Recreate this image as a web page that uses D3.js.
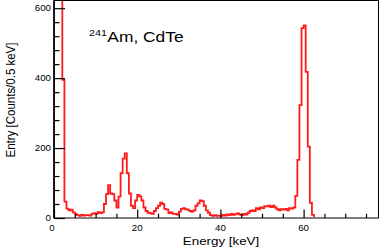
<!DOCTYPE html>
<html lang="en">
	<head>
		<meta charset="utf-8">
		<title>241Am CdTe spectrum</title>
		<script type="text/javascript" src="https://cdn.jsdelivr.net/npm/d3@7/dist/d3.min.js"></script>
		<style type="text/css">
			body { margin: 0; background: #fff; }
			svg { display: block; font-family: "Liberation Sans", Arial, sans-serif; }
		</style>
	</head>
	<body>
		<script type="text/javascript">

			//Width and height
			var w = 380;
			var h = 251;
			var stretch = 1.16;	// text in the picture is a bit wider than tall

			// Energy binning (keV) and counts per 0.5 keV bin
			var binWidth = 0.5;
			var xRange = [0, 78];
			var counts = [
				1500, 1500, 1500, 1500, 395, 47, 27, 22, 24, 16,
				12, 8, 6, 9, 7, 8, 8, 7, 12, 14,
				12, 17, 14, 16, 40, 68, 94, 70, 68, 50,
				30, 61, 128, 170, 185, 128, 70, 35, 28, 50,
				66, 62, 50, 30, 20, 15, 14, 12, 20, 28,
				35, 44, 40, 26, 24, 14, 16, 12, 12, 10,
				18, 26, 28, 25, 24, 20, 18, 22, 35, 42,
				50, 48, 35, 22, 15, 8, 6, 8, 6, 7,
				6, 9, 7, 10, 8, 12, 9, 11, 13, 10,
				8, 12, 10, 15, 20, 22, 20, 28, 25, 30,
				28, 34, 33, 35, 31, 35, 30, 25, 22, 25,
				24, 26, 22, 28, 27, 30, 63, 166, 323, 543,
				551, 418, 204, 43, 9, 0, 0, 0, 0, 0,
				0, 0, 0, 0, 0, 0, 0, 0, 0, 0,
				0, 0, 0, 0, 0, 0, 0, 0, 0, 0,
				0, 0, 0, 0, 0, 0
			];
			var yMax = 622;

			// tick values
			var xMajor = [0, 20, 40, 60];
			var xMinor = [5, 10, 15, 25, 30, 35, 45, 50, 55, 65, 70, 75];
			var yMajor = [0, 200, 400, 600];
			var yMinor = [40, 80, 120, 160, 240, 280, 320, 360, 440, 480, 520, 560];

			var padL = 54, padR = 378.5, padT = 0.5, padB = 218;

			var xScale = d3.scaleLinear()
						.domain(xRange)
						.range([padL, padR]);

			var yScale = d3.scaleLinear()
						.domain([0, yMax])
						.range([padB, padT]);

			//Create SVG element
			var svg = d3.select("body")
						.append("svg")
						.attr("width", w)
						.attr("height", h);

			svg.append("clipPath")
			   .attr("id", "plotclip")
			   .append("rect")
			   .attr("x", padL)
			   .attr("y", padT)
			   .attr("width", padR - padL)
			   .attr("height", padB - padT - 1);

			// histogram outline as steps
			var pts = [[xScale(0), yScale(0)]];
			counts.forEach(function(c, i) {
				var x0 = xScale(i * binWidth), x1 = xScale((i + 1) * binWidth);
				pts.push([x0, yScale(c)]);
				pts.push([x1, yScale(c)]);
			});
			pts.push([xScale(counts.length * binWidth), yScale(0)]);

			svg.append("path")
			   .attr("clip-path", "url(#plotclip)")
			   .attr("d", d3.line()(pts))
			   .attr("fill", "none")
			   .attr("stroke", "#ff1a1a")
			   .attr("stroke-width", 1.8)
			   .attr("stroke-linejoin", "miter");

			//Frame
			svg.append("rect")
			   .attr("x", padL)
			   .attr("y", padT)
			   .attr("width", padR - padL)
			   .attr("height", padB - padT)
			   .attr("fill", "none")
			   .attr("stroke", "black")
			   .attr("stroke-width", 1);

			//Ticks (pointing inwards)
			function tickAxis(axis, values, size, tx, ty) {
				var g = svg.append("g")
						.attr("transform", "translate(" + tx + "," + ty + ")")
						.call(axis.tickValues(values).tickSize(size).tickFormat(""));
				g.select(".domain").remove();
				g.selectAll("line").attr("stroke", "black").attr("stroke-width", 1.2);
				return g;
			}
			tickAxis(d3.axisBottom(xScale), xMajor, -8.4, 0, padB);
			tickAxis(d3.axisBottom(xScale), xMinor, -4.3, 0, padB);
			tickAxis(d3.axisLeft(yScale), yMajor, -11, padL, 0);
			tickAxis(d3.axisLeft(yScale), yMinor, -5.5, padL, 0);

			// left axis line a bit heavier
			svg.append("line")
			   .attr("x1", padL).attr("x2", padL)
			   .attr("y1", padT).attr("y2", padB)
			   .attr("stroke", "black")
			   .attr("stroke-width", 1.5);

			// stretched text helper
			function label(x, y, str, size, anchor, rot) {
				var g = svg.append("g")
						.attr("transform", "translate(" + x + "," + y + ") scale(" + stretch + ",1)" + (rot ? " rotate(" + rot + ")" : ""));
				return g.append("text")
						.attr("font-size", size)
						.attr("text-anchor", anchor)
						.attr("fill", "black")
						.text(str);
			}

			//Tick labels
			xMajor.forEach(function(v) {
				label(xScale(v) - (v === 0 ? 2 : 0), 230.5, v, 8.4, "middle");
			});
			yMajor.forEach(function(v) {
				label(51, yScale(v) + 3, v, 8.4, "end");
			});

			//Axis titles
			label(221, 245, "Energy [keV]", 11.5, "middle");
			label(15, 100, "Entry [Counts/0.5 keV]", 11.5, "middle", -90);

			//Title with superscript
			label(89, 35.7, "241", 9.3, "start");
			label(107.3, 42.3, "Am, CdTe", 15, "start");

		</script>
	</body>
</html>
